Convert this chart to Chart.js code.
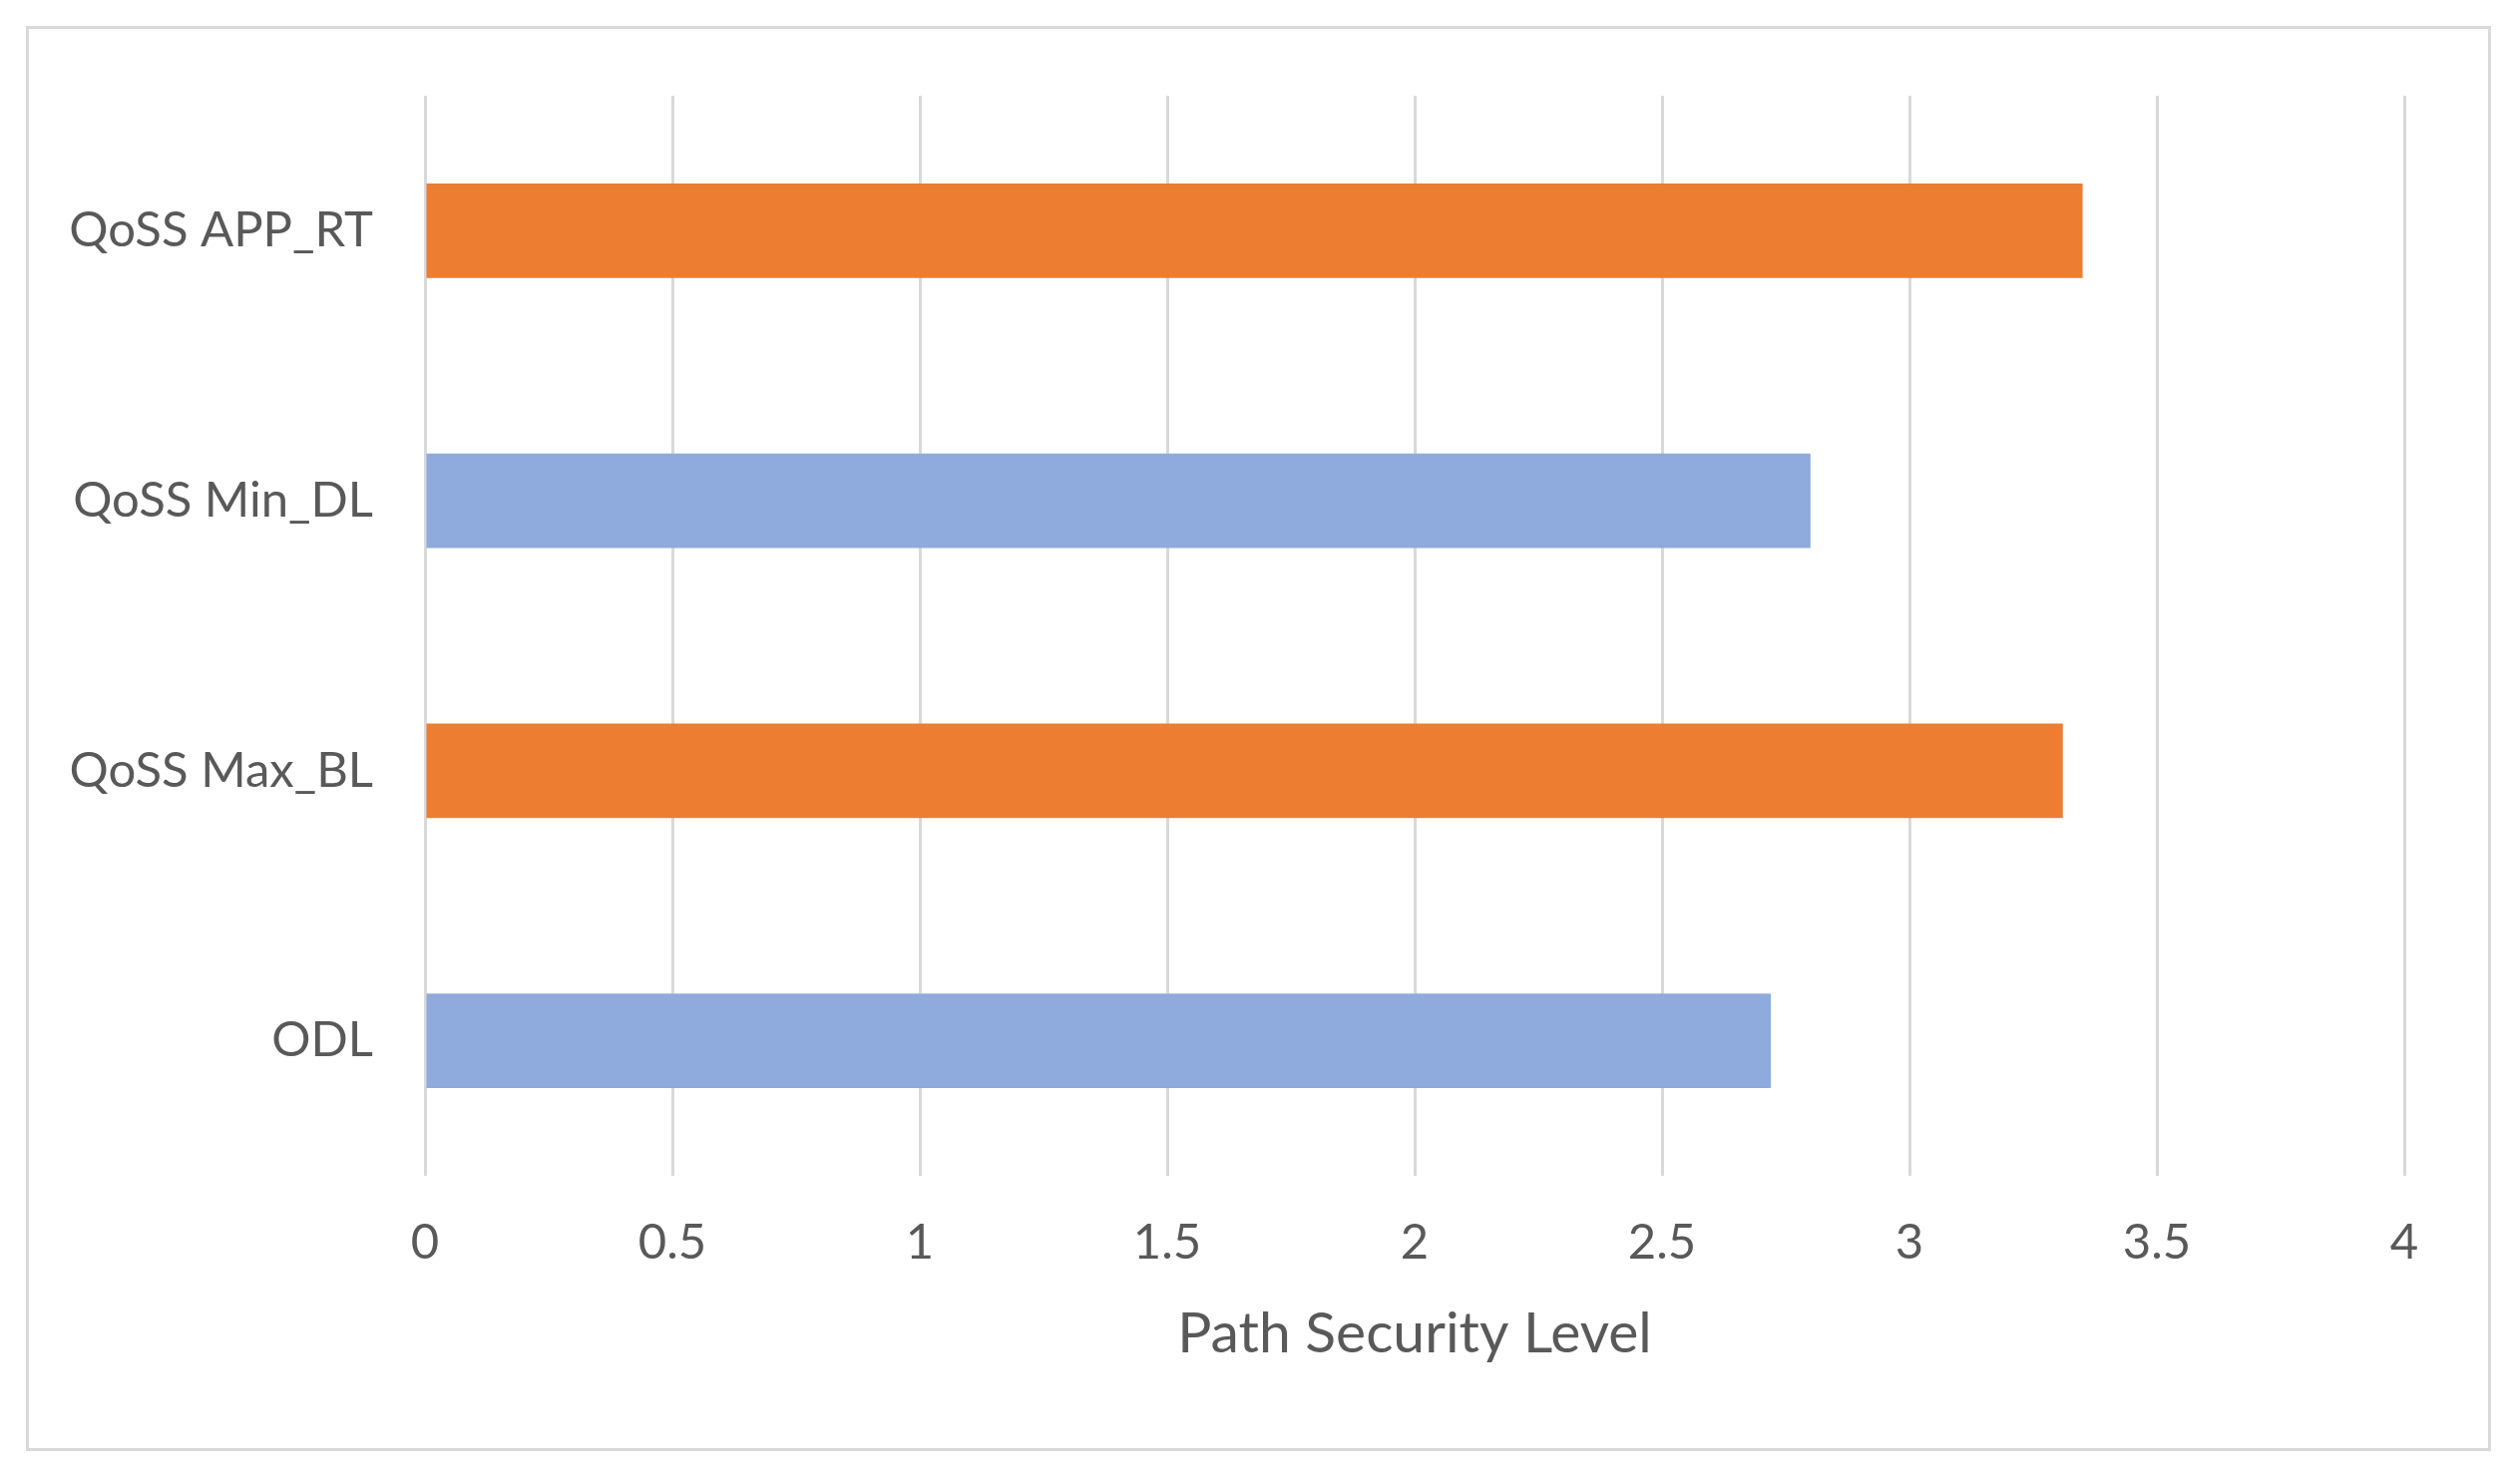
<!DOCTYPE html>
<html>
<head>
<meta charset="utf-8">
<script src="https://cdn.jsdelivr.net/npm/chart.js@4"></script>
<style>
  html, body { margin: 0; padding: 0; background: #fff; }
  #wrap { position: relative; width: 2521px; height: 1488px; }
  #frame { position: absolute; left: 26px; top: 26px; width: 2465px; height: 1423px; border: 3px solid #d9d9d9; }
  canvas { position: absolute; left: 0; top: 0; }
</style>
</head>
<body>
<div id="wrap">
  <div id="frame"></div>
  <canvas id="chart" width="2521" height="1488"></canvas>
</div>
<script>
const categories = ['QoSS APP_RT', 'QoSS Min_DL', 'QoSS Max_BL', 'ODL'];
const values = [3.35, 2.8, 3.31, 2.72];
const barColors = ['#ED7D31', '#8FAADC', '#ED7D31', '#8FAADC'];
const xTicks = [0, 0.5, 1, 1.5, 2, 2.5, 3, 3.5, 4];

const textColor = '#595959';
const fontFamily = 'Lato, "Open Sans", sans-serif';

const ctx = document.getElementById('chart').getContext('2d');
new Chart(ctx, {
    type: 'bar',
    data: {
        labels: categories,
        datasets: [{
            data: values,
            backgroundColor: barColors,
            borderWidth: 0,
            barPercentage: 0.35,
            categoryPercentage: 1
        }]
    },
    options: {
        indexAxis: 'y',
        responsive: false,
        devicePixelRatio: 1,
        animation: false,
        layout: { padding: { top: 96, right: 111, bottom: 0, left: 0 } },
        plugins: {
            legend: { display: false },
            tooltip: { enabled: false }
        },
        scales: {
            x: {
                min: 0,
                max: 4,
                afterBuildTicks: function (scale) {
                    scale.ticks = xTicks.map(v => ({ value: v }));
                },
                afterFit: function (scale) { scale.height = 309; },
                border: { display: false },
                grid: { color: '#d9d9d9', lineWidth: 3, drawTicks: false },
                ticks: {
                    color: textColor,
                    font: { family: fontFamily, size: 49 },
                    padding: 38,
                    callback: function (value) { return String(value); }
                },
                title: {
                    display: true,
                    text: 'Path Security Level',
                    color: textColor,
                    font: { family: fontFamily, size: 57 },
                    padding: { top: 0, bottom: 116 }
                }
            },
            y: {
                afterFit: function (scale) { scale.width = 426; },
                border: { display: false },
                grid: { display: false },
                ticks: {
                    color: textColor,
                    font: { family: fontFamily, size: 49 },
                    padding: 44
                }
            }
        }
    }
});
</script>
</body>
</html>
